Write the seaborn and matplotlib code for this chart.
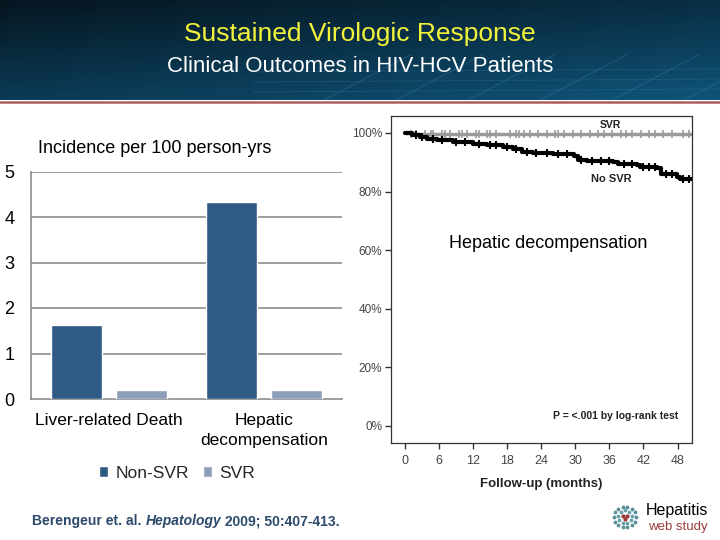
import numpy as np
import pandas as pd
import matplotlib
matplotlib.use("Agg")
import matplotlib.pyplot as plt
from matplotlib.colors import LinearSegmentedColormap
import seaborn as sns

# ---------------- data ----------------
outcomes = ["Liver-related Death", "Hepatic\ndecompensation"]
groups = ["Non-SVR", "SVR"]
non_svr_values = [1.63, 4.34]
svr_values = [0.20, 0.20]
y_ticks = [0, 1, 2, 3, 4, 5]

km_months = [0, 1.2, 2.6, 3.8, 5.6, 8.5, 12, 14.4, 17.3, 19, 20.6, 22.6, 26,
             29.7, 30.5, 32, 36.7, 37.6, 40.8, 41.4, 44.4, 45, 47.9, 48.5, 50.5]
km_nosvr = [100, 99.2, 98.6, 98.0, 97.5, 96.9, 96.4, 95.8, 95.2, 94.7, 93.5, 93.0, 92.7,
            92.0, 90.9, 90.5, 90.1, 89.5, 89.2, 88.4, 88.2, 86.1, 85.0, 84.4, 84.4]
svr_months = [0, 1.5, 50.5]
svr_level = [100, 99.5, 99.5]
svr_censor = [1, 2, 3.5, 4.5, 5, 6.5, 7, 8, 9.5, 10, 11, 12.5, 13, 14.5, 15, 16, 18.5,
              19.5, 20, 21, 22, 23.5, 25, 26.5, 27, 28, 29.5, 31, 32.5, 34, 35, 36.5,
              38, 39, 40, 41.5, 43, 44, 45.5, 47, 49, 50]
nosvr_censor = [2, 3, 5, 6.5, 9, 10.5, 13, 15, 16, 18, 19.5, 21.5, 23, 25, 27, 28.5,
                31, 33, 34.5, 36, 38.5, 40, 42, 43, 44, 46, 47, 49, 50]
km_xticks = [0, 6, 12, 18, 24, 30, 36, 42, 48]
km_yticks = [0, 20, 40, 60, 80, 100]

sns.set_theme(style="white")
plt.rcParams["font.family"] = ["Liberation Sans", "DejaVu Sans"]

W, H = 720, 540
fig = plt.figure(figsize=(7.2, 5.4), dpi=100)

def fx(x):
    return x / W

def fy(y):
    return 1 - y / H

# ---------------- banner ----------------
bax = fig.add_axes([0, fy(100), 1, 100 / H])
gx = np.linspace(0, 1, 300)
gy = np.linspace(0, 1, 60)
GX, GY = np.meshgrid(gx, gy)
grad = 0.6 * GY + 0.4 * GX
cmap = LinearSegmentedColormap.from_list("ban", ["#061620", "#0a344c", "#0f5479"])
bax.imshow(grad, cmap=cmap, aspect="auto", extent=[0, 1, 1, 0], vmin=0, vmax=1)
for k in range(6):
    x0 = 0.45 + 0.1 * k
    bax.plot([x0, x0 + 0.12], [1.0, 0.55], color="#3a7fa8", lw=0.8, alpha=0.35)
for k in range(3):
    yy = 0.72 + 0.1 * k
    bax.plot([0.35, 1.0], [yy, yy - 0.03], color="#3a7fa8", lw=0.6, alpha=0.3)
bax.set_xlim(0, 1)
bax.set_ylim(1, 0)
bax.axis("off")
fig.text(0.5, fy(34), "Sustained Virologic Response", ha="center", va="center",
         color="#f2f23c", fontsize=19)
fig.text(0.5, fy(67), "Clinical Outcomes in HIV-HCV Patients", ha="center", va="center",
         color="white", fontsize=16)
fig.add_artist(plt.Line2D([0, 1], [fy(101.5), fy(101.5)], color="#a9605e", lw=1.8))

# ---------------- bar chart ----------------
df = pd.DataFrame({
    "outcome": outcomes * 2,
    "group": [groups[0]] * 2 + [groups[1]] * 2,
    "value": non_svr_values + svr_values,
})
ax = fig.add_axes([fx(31), fy(399), fx(342) - fx(31), (399 - 171.5) / H])
sns.barplot(data=df, x="outcome", y="value", hue="group", order=outcomes,
            hue_order=groups, palette=["#2e5a85", "#8d9eb8"], width=0.836, gap=0.215,
            saturation=1, ax=ax, zorder=3, errorbar=None)
ax.set_xlim(-0.5, 1.5)
ax.set_ylim(0, 5)
ax.set_yticks(y_ticks)
for t in y_ticks[1:]:
    ax.axhline(t, color="#8c8c8c", lw=1.2, zorder=1)
for s in ["top", "right"]:
    ax.spines[s].set_visible(False)
ax.spines["left"].set_color("#8c8c8c")
ax.spines["left"].set_linewidth(1.2)
ax.spines["bottom"].set_color("#8c8c8c")
ax.spines["bottom"].set_linewidth(1.2)
ax.tick_params(axis="y", length=0, pad=12, labelsize=13, labelcolor="black")
ax.tick_params(axis="x", length=0, pad=10, labelsize=12.5, labelcolor="black")
ax.set_xlabel("")
ax.set_ylabel("")
ax.set_xticks([0, 1])
ax.set_xticklabels(outcomes, linespacing=1.45, va="top")
ax.text(fx(38), fy(148), "Incidence per 100 person-yrs", transform=fig.transFigure,
        ha="left", va="center", fontsize=13, color="black")
leg = ax.legend(loc="center", bbox_to_anchor=(fx(177), fy(473)),
                bbox_transform=fig.transFigure, ncol=2, frameon=False, fontsize=12.5,
                handlelength=0.55, handleheight=0.55, handletextpad=0.4,
                columnspacing=0.8, borderaxespad=0)

# ---------------- KM plot ----------------
kax = fig.add_axes([fx(390.7), fy(442.7), fx(692.3) - fx(390.7), (442.7 - 115.7) / H])
km_df = pd.DataFrame({"month": km_months, "surv": km_nosvr})
svr_df = pd.DataFrame({"month": svr_months, "surv": svr_level})
sns.lineplot(data=svr_df, x="month", y="surv", ax=kax, color="#9a9a9a", lw=2.5,
             drawstyle="steps-post", zorder=2)
sns.lineplot(data=km_df, x="month", y="surv", ax=kax, color="black", lw=3,
             drawstyle="steps-post", zorder=3)
kax.plot(svr_censor, [99.5] * len(svr_censor), ls="none", marker="|", ms=6,
         mew=1.2, color="#9a9a9a", zorder=2)
step_vals = [km_nosvr[np.searchsorted(km_months, t, side="right") - 1] for t in nosvr_censor]
kax.plot(nosvr_censor, step_vals, ls="none", marker="|", ms=6, mew=1.5,
         color="black", zorder=3)
kax.set_xlim(-2.52, 50.6)
kax.set_ylim(-5.7, 105.9)
kax.set_xticks(km_xticks)
kax.set_yticks(km_yticks)
kax.set_yticklabels([f"{v}%" for v in km_yticks])
kax.tick_params(axis="both", direction="out", length=4, width=1, color="#333333",
                labelsize=8.5, labelcolor="#444444", pad=2, left=True, bottom=True)
kax.tick_params(axis="x", pad=5, labelsize=9)
for s in kax.spines.values():
    s.set_color("#333333")
    s.set_linewidth(0.9)
kax.set_xlabel("Follow-up (months)", fontsize=9.5, fontweight="bold", color="#222222",
               labelpad=8)
kax.set_ylabel("")
kax.text(36.1, 102.7, "SVR", ha="center", va="center", fontsize=7.5,
         fontweight="bold", color="#222222")
kax.text(36.4, 84.3, "No SVR", ha="center", va="center", fontsize=8,
         fontweight="bold", color="#222222")
kax.text(fx(548), fy(243), "Hepatic decompensation", transform=fig.transFigure,
         ha="center", va="center", fontsize=13, color="black")
kax.text(48.2, 3.3, "P = <.001 by log-rank test", ha="right", va="center",
         fontsize=7.5, fontweight="bold", color="#222222")

# ---------------- footer ----------------
fs_cite = 10
t0 = fig.text(fx(32), fy(521), "Berengeur et. al. ", ha="left", va="center",
              fontsize=fs_cite, fontweight="bold", color="#2c4a6a")
fig.canvas.draw()
r = fig.canvas.get_renderer()
bb = t0.get_window_extent(r)
t2 = fig.text(bb.x1 / W, fy(521), "Hepatology", ha="left", va="center", fontsize=fs_cite,
              fontweight="bold", style="italic", color="#2c4a6a")
bb2 = t2.get_window_extent(r)
fig.text(bb2.x1 / W, fy(521), " 2009; 50:407-413.", ha="left", va="center",
         fontsize=fs_cite, fontweight="bold", color="#2c4a6a")

# logo
lax = fig.add_axes([fx(611), fy(531), 28 / W, 28 / H])
ang = np.linspace(0, 2 * np.pi, 14, endpoint=False)
lax.scatter(np.cos(ang), np.sin(ang), s=3, color="#5a8f9a")
ang2 = np.linspace(0, 2 * np.pi, 9, endpoint=False) + 0.2
lax.scatter(0.62 * np.cos(ang2), 0.62 * np.sin(ang2), s=3, color="#6aa0a8")
lax.scatter([-0.15, 0.15, 0], [0.05, 0.05, -0.15], s=4, color="#a03a3a")
lax.set_xlim(-1.3, 1.3)
lax.set_ylim(-1.3, 1.3)
lax.axis("off")
fig.text(fx(708), fy(511), "Hepatitis", ha="right", va="center", fontsize=11.5,
         color="black")
fig.text(fx(708), fy(527), "web study", ha="right", va="center", fontsize=9.5,
         color="#9a3a3a")

fig.savefig("out.png", dpi=100)
